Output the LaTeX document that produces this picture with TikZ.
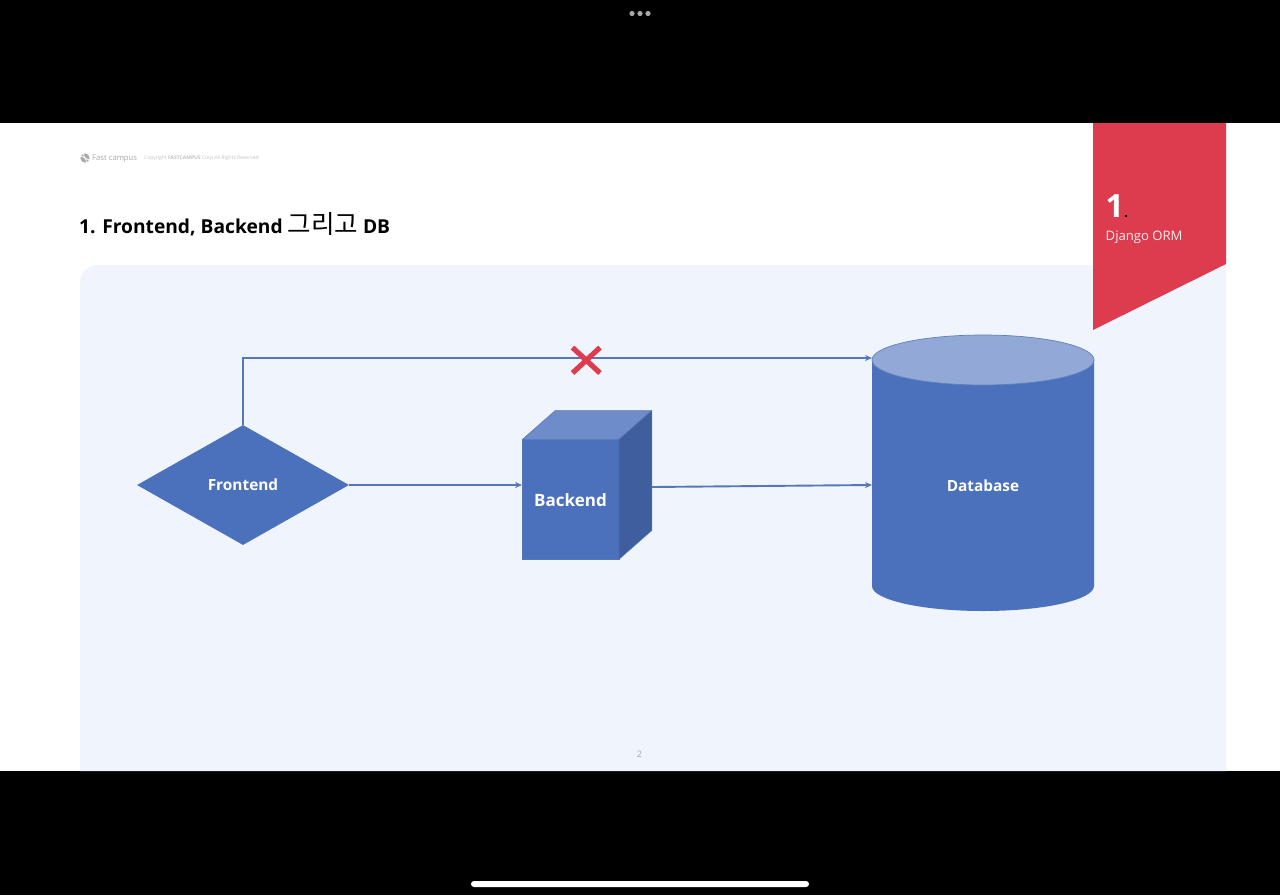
\documentclass[tikz,border=0pt]{standalone}
\usepackage{fontspec}
\setmainfont{Open Sans}
\newfontfamily\krfont{Noto Sans CJK KR}
\usetikzlibrary{shapes.geometric,arrows.meta}
\definecolor{bluebody}{HTML}{4B70BC}
\definecolor{bluetop}{HTML}{92A9D8}
\definecolor{cubetop}{HTML}{6E8BCA}
\definecolor{cubeside}{HTML}{3F5E9E}
\definecolor{linkblue}{HTML}{5678B6}
\definecolor{panelblue}{HTML}{F0F4FD}
\definecolor{ribbonred}{HTML}{DD3C4F}
\definecolor{softgray}{HTML}{A8A8A8}
\tikzset{
  shapelabel/.style={text=white,font=\bfseries\fontsize{15.4}{18}\selectfont,inner sep=0pt},
  link/.style={draw=linkblue,line width=1.9pt,-{Stealth[length=7pt,width=6pt]}},
  cubeedge/.style={draw=linkblue,line width=.5pt,line join=round},
  crossline/.style={draw=ribbonred,line width=5.2pt},
}
\begin{document}
\begin{tikzpicture}[x=1pt,y=-1pt]
\useasboundingbox (0,0) rectangle (1280,895);
\fill[black] (0,0) rectangle (1280,895);
\fill[white] (0,123) rectangle (1280,771);
% panel
\fill[panelblue] (80,771) [rounded corners=18pt] -- (80,265) [sharp corners] -- (1226,265) -- (1226,771) -- cycle;
% window chrome
\foreach \xx in {632,640,648} \fill[gray!70] (\xx,13.5) circle[radius=2.6];
\fill[white,rounded corners=3pt] (471,881) rectangle (809,887);
% header
\fill[softgray] (85,158) circle[radius=4.6];
\draw[white,line width=.7pt] (81,156) -- (89,160) (83,153.5) -- (87,162.5);
\node[anchor=west,inner sep=0pt,text=softgray,font=\fontsize{7.7}{10}\selectfont] (brand) at (92,158.5) {Fast campus};
\node[anchor=west,inner sep=0pt,text=softgray!70,font=\fontsize{5}{6}\selectfont] (copy) at (144,158.5) {Copyright \textbf{FASTCAMPUS} Corp.All Rights Reserved};
\node[anchor=west,inner sep=0pt,text=black,font=\bfseries\fontsize{19.2}{24}\selectfont] (title) at (79,224) {1. Frontend, Backend {\krfont\mdseries\fontsize{25.5}{24}\selectfont 그리고} DB};
% ribbon
\fill[ribbonred] (1093,123) -- (1226,123) -- (1226,264) -- (1093,330) -- cycle;
\node[anchor=base west,inner sep=0pt,text=white,font=\bfseries\fontsize{32}{36}\selectfont] (num) at (1105.5,217) {1};
\node[anchor=base west,inner sep=0pt,text=black,font=\bfseries\fontsize{14}{16}\selectfont] (dot) at (1124,217) {.};
\node[anchor=west,inner sep=0pt,text=white!90!ribbonred,font=\fontsize{13.1}{16}\selectfont] (orm) at (1105.5,237) {Django ORM};
% frontend
\node[diamond,fill=bluebody,inner sep=0pt,minimum width=212pt,minimum height=120pt,shape aspect=1.77,shapelabel] (fe) at (243,485) {};
\node[shapelabel] (fel) at (243,484.5) {Frontend};
% backend cube
\node[rectangle,fill=bluebody,draw=linkblue,line width=.5pt,outer sep=0pt,minimum width=96.5pt,minimum height=120pt,inner sep=0pt] (be) at (570.5,499.5) {};
\fill[cubetop,cubeedge] (be.north west) -- ++(33,-29) -- ++(96.5,0) -- (be.north east) -- cycle;
\fill[cubeside,cubeedge] (be.north east) -- ++(33,-29) -- ++(0,120) -- (be.south east) -- cycle;
\node[shapelabel,font=\bfseries\fontsize{17}{20}\selectfont] (bel) at (570.5,500) {Backend};
% database cylinder
\fill[bluebody] (872,360) -- (872,586) arc[start angle=180,end angle=0,x radius=111,y radius=25] -- (1094,360) -- cycle;
\node[ellipse,fill=bluetop,draw=linkblue!85!bluetop,line width=.7pt,inner sep=0pt,minimum width=222pt,minimum height=50pt] (dbtop) at (983,360) {};
\node[shapelabel] (db) at (983,485.5) {Database};
% connectors
\coordinate (dbin1) at (872,358);
\coordinate (dbin2) at (872,485);
\coordinate (beout) at (652,487);
\coordinate (bein) at (522,485);
\draw[link] (fe.north) -- (fe.north |- dbin1) -- (dbin1);
\draw[link] (fe.east) -- (bein);
\draw[link] (beout) -- (dbin2);
% cross
\draw[crossline] (572.5,347.5) -- (600,373);
\draw[crossline] (600,347.5) -- (572.5,373);
% page number
\node[inner sep=0pt,text=softgray,font=\fontsize{9}{11}\selectfont] (page) at (639.5,754) {2};
\end{tikzpicture}
\end{document}
